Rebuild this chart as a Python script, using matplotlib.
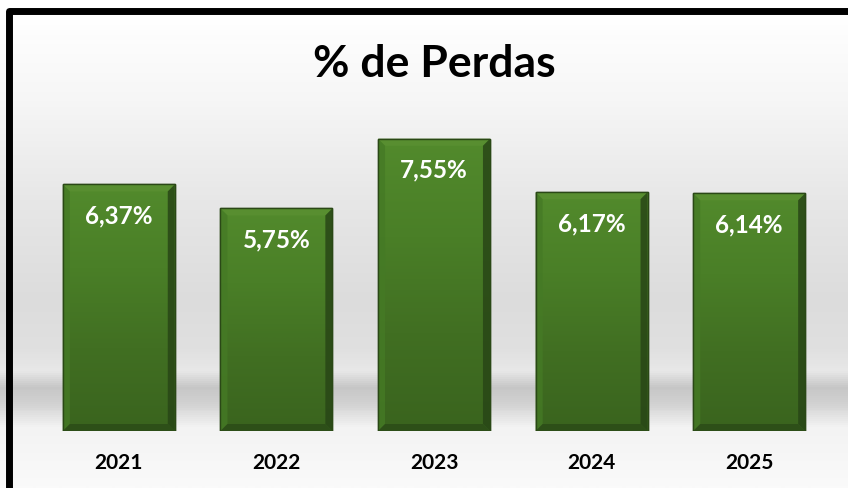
import numpy as np
import matplotlib
matplotlib.use("Agg")
import matplotlib.pyplot as plt
from matplotlib.patches import Rectangle, Polygon
from matplotlib.colors import LinearSegmentedColormap

categories = ["2021", "2022", "2023", "2024", "2025"]
values = [6.37, 5.75, 7.55, 6.17, 6.14]
value_labels = ["6,37%", "5,75%", "7,55%", "6,17%", "6,14%"]
title = "% de Perdas"

W, H = 848, 488
DPI = 100
FONT = "Lato"

fig = plt.figure(figsize=(W / DPI, H / DPI), dpi=DPI)
fig.patch.set_facecolor("white")

# background gradient (figure coords)
bg = fig.add_axes([0, 0, 1, 1], zorder=0)
bg.set_axis_off()
stops = [(0, "#ffffff"), (14, "#ffffff"), (100, "#f6f6f6"), (200, "#e7e7e7"),
         (300, "#dcdcdc"), (350, "#e0e0e0"), (372, "#e8e8e8"), (388, "#c6c6c6"),
         (405, "#d2d2d2"), (428, "#f3f3f3"), (488, "#fafafa")]
cmap_bg = LinearSegmentedColormap.from_list(
    "bg", [(p / H, c) for p, c in stops])
grad = np.linspace(0, 1, H).reshape(-1, 1)
bg.imshow(grad, cmap=cmap_bg, aspect="auto", extent=[0, 1, 1, 0],
          interpolation="bilinear")
bg.set_xlim(0, 1)
bg.set_ylim(1, 0)

# main axes
left_px, right_px, base_px, top_px = 40, 828, 431, 102
ax = fig.add_axes([left_px / W, (H - base_px) / H,
                   (right_px - left_px) / W, (base_px - top_px) / H], zorder=1)
ax.patch.set_alpha(0)
x = np.arange(len(categories))
ax.set_xlim(-0.5, len(categories) - 0.5)
ax.set_ylim(0, 8.5)
for s in ax.spines.values():
    s.set_visible(False)
ax.set_yticks([])
ax.set_xticks(x)
ax.set_xticklabels(categories, fontsize=15, fontweight="bold",
                   family=FONT, color="black")
ax.tick_params(axis="x", length=0, pad=15.5)

bar_w = 0.71
bars = ax.bar(x, values, width=bar_w, color="#4a7c28", edgecolor="#2a4816",
              linewidth=1.0, zorder=2)

# pixel -> data conversion
px_x = (ax.get_xlim()[1] - ax.get_xlim()[0]) / (right_px - left_px)
px_y = (ax.get_ylim()[1] - ax.get_ylim()[0]) / (base_px - top_px)

cmap_bar = LinearSegmentedColormap.from_list(
    "bar", ["#528a2c", "#4a7f27", "#416f22", "#3a641e"])
for b in bars:
    x0, y0, w, h = b.get_x(), b.get_y(), b.get_width(), b.get_height()
    im = ax.imshow(np.linspace(0, 1, 64).reshape(-1, 1), cmap=cmap_bar,
                   aspect="auto", extent=[x0, x0 + w, y0, y0 + h],
                   origin="upper", interpolation="bilinear", zorder=2.1)
    im.set_clip_path(b)
    bw = 7 * px_x
    bh = 7 * px_y
    # bevels
    top = Polygon([(x0, y0 + h), (x0 + w, y0 + h), (x0 + w - bw, y0 + h - bh),
                   (x0 + bw, y0 + h - bh)], closed=True, facecolor="#5a9032",
                  edgecolor="none", alpha=0.8, zorder=2.2)
    lft = Polygon([(x0, y0), (x0, y0 + h), (x0 + bw, y0 + h - bh),
                   (x0 + bw, y0 + bh)], closed=True, facecolor="#457a25",
                  edgecolor="none", alpha=0.8, zorder=2.2)
    rgt = Polygon([(x0 + w, y0), (x0 + w, y0 + h), (x0 + w - bw, y0 + h - bh),
                   (x0 + w - bw, y0 + bh)], closed=True, facecolor="#284616",
                  edgecolor="none", alpha=0.85, zorder=2.2)
    bot = Polygon([(x0, y0), (x0 + w, y0), (x0 + w - bw, y0 + bh),
                   (x0 + bw, y0 + bh)], closed=True, facecolor="#2c4d18",
                  edgecolor="none", alpha=0.9, zorder=2.2)
    for p in (top, lft, rgt, bot):
        ax.add_patch(p)
    ax.add_patch(Rectangle((x0, y0), w, h, facecolor="none",
                           edgecolor="#2a4816", linewidth=1.0, zorder=2.3))

for xi, v, lab in zip(x, values, value_labels):
    ax.annotate(lab, xy=(xi, v), xytext=(0, -39 * 72 / DPI),
                textcoords="offset points", ha="center", va="baseline",
                fontsize=17.5, fontweight="bold", family=FONT, color="white",
                zorder=3)

fig.text(434 / W, 1 - 77 / H, title, ha="center", va="baseline",
         fontsize=32, fontweight="bold", family=FONT, color="black")

# thick border (right and bottom edges lie outside the figure)
fig.add_artist(Rectangle((9 / W, -0.05), 1.1, 1 - 10.5 / H + 0.05,
                         transform=fig.transFigure, facecolor="none",
                         edgecolor="black", linewidth=5.0,
                         joinstyle="round", zorder=5))

fig.savefig("out.png", dpi=DPI)
